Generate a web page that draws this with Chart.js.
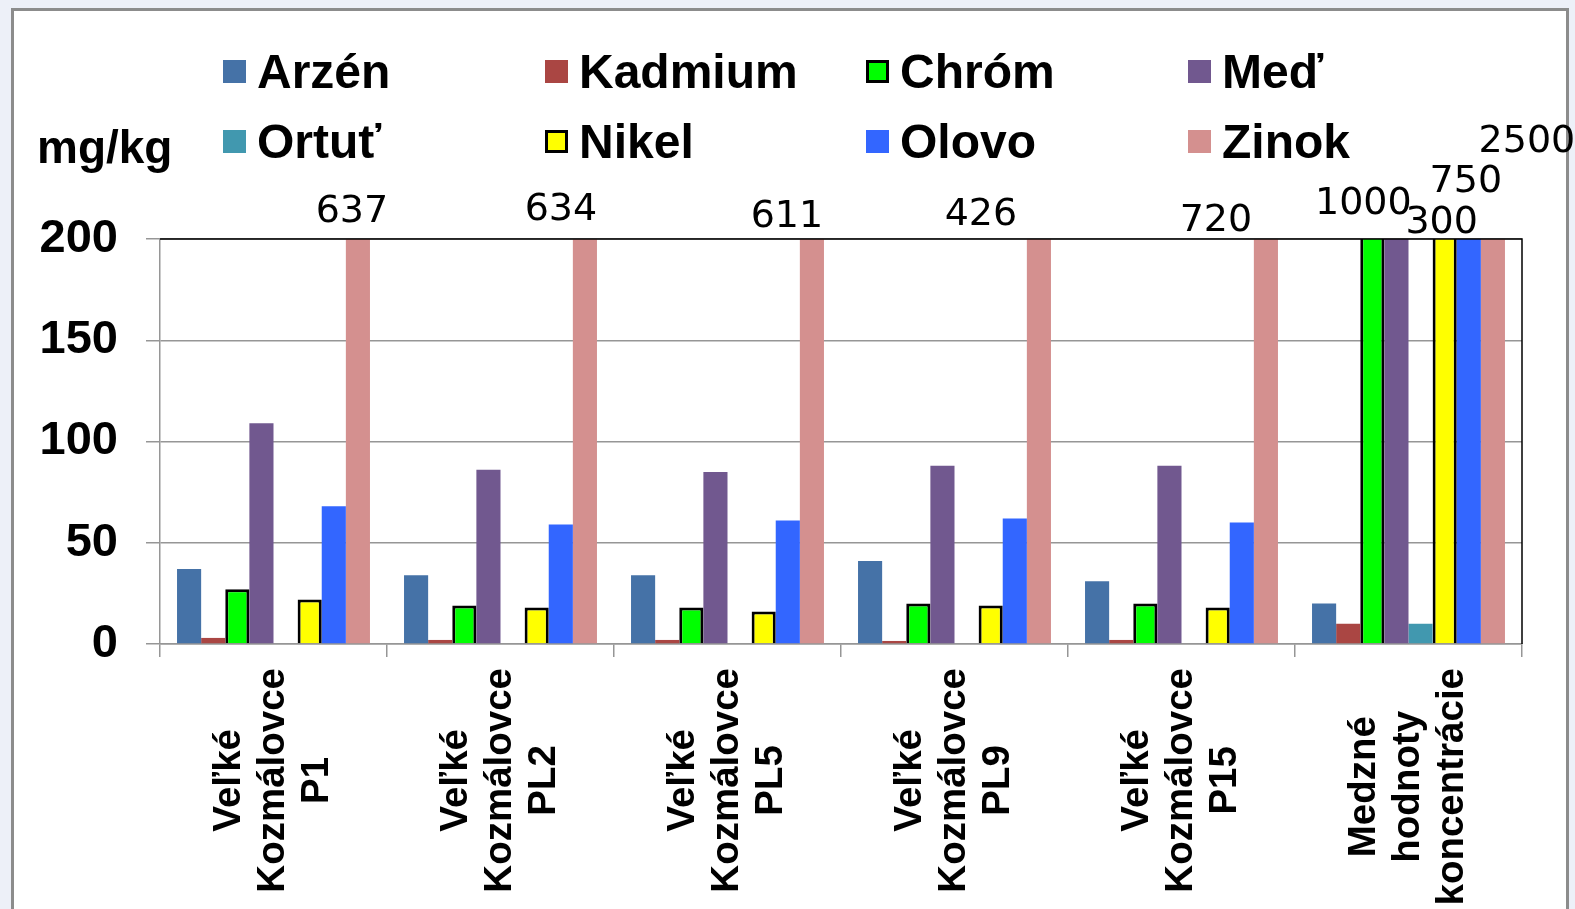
<!DOCTYPE html>
<html lang="sk">
<head>
<meta charset="UTF-8">
<title>Ťažké kovy – Veľké Kozmálovce</title>
<script src="https://cdn.jsdelivr.net/npm/chart.js@4.4.1/dist/chart.umd.min.js"></script>
<style>
    html, body { margin: 0; padding: 0; width: 1575px; height: 909px; overflow: hidden; background: #edf0f8; }
    .panel { position: absolute; left: 11px; top: 8px; width: 1552px; height: 920px; background: #fff;
             border: 3px solid #8c8c8c; border-bottom: none; }
    #wrap { position: absolute; left: 0; top: 0; width: 1575px; height: 909px; }
</style>
</head>
<body>
<div class="panel"></div>
<div id="wrap"><canvas id="kovy"></canvas></div>

<script>
    // --- údaje (mg/kg) ---
    const categories = [
        ['Veľké', 'Kozmálovce', 'P1'],
        ['Veľké', 'Kozmálovce', 'PL2'],
        ['Veľké', 'Kozmálovce', 'PL5'],
        ['Veľké', 'Kozmálovce', 'PL9'],
        ['Veľké', 'Kozmálovce', 'P15'],
        ['Medzné', 'hodnoty', 'koncentrácie']
    ];
    const arzen   = [37, 34, 34, 41, 31, 20];
    const kadmium = [3, 2, 2, 1.5, 2, 10];
    const chrom   = [27, 19, 18, 20, 20, 1000];
    const med     = [109, 86, 85, 88, 88, 1000];
    const ortut   = [0, 0, 0, 0, 0, 10];
    const nikel   = [22, 18, 16, 19, 18, 300];
    const olovo   = [68, 59, 61, 62, 60, 750];
    const zinok   = [637, 634, 611, 426, 720, 2500];
    const yTicks  = [0, 50, 100, 150, 200];

    const seriesNames  = ['Arzén', 'Kadmium', 'Chróm', 'Meď', 'Ortuť', 'Nikel', 'Olovo', 'Zinok'];
    const seriesValues = [arzen, kadmium, chrom, med, ortut, nikel, olovo, zinok];
    const seriesColors = ['#4572a7', '#aa4643', '#00ff00', '#71588f', '#4198af', '#ffff00', '#3366ff', '#d4908f'];
    const outlined     = ['Chróm', 'Nikel'];

    // popisky hodnôt nad orezanými stĺpcami: [séria, kategória, posun x, výška nad grafom]
    const labelNudges = [
        [7, 0, -6, 27], [7, 1, -24, 29], [7, 2, -25, 22], [7, 3, -58, 24], [7, 4, -50, 18],
        [2, 5, -9, 35], [5, 5, -3, 16], [6, 5, -3, 57], [7, 5, 34, 97]
    ];

    const FONT = '"Liberation Sans", Arial, sans-serif';

    const overflowLabels = {
        id: 'overflowLabels',
        afterDatasetsDraw(chart) {
            const { ctx, chartArea } = chart;
            ctx.save();
            // rám grafu – horná a pravá čiara
            ctx.strokeStyle = '#000';
            ctx.lineWidth = 1.5;
            ctx.beginPath();
            ctx.moveTo(chartArea.left, chartArea.top);
            ctx.lineTo(chartArea.right, chartArea.top);
            ctx.lineTo(chartArea.right, chartArea.bottom);
            ctx.stroke();

            ctx.font = '38px "DejaVu Sans", sans-serif';
            ctx.fillStyle = '#000';
            ctx.textAlign = 'center';
            ctx.textBaseline = 'middle';
            labelNudges.forEach(([s, c, dx, rise]) => {
                const bar = chart.getDatasetMeta(s).data[c];
                ctx.fillText(String(seriesValues[s][c]), bar.x + dx, chartArea.top - rise);
            });
            ctx.restore();
        }
    };

    const categoryLabels = {
        id: 'categoryLabels',
        afterDraw(chart) {
            const { ctx } = chart;
            const xs = chart.scales.x;
            ctx.save();
            ctx.font = 'bold 38.5px ' + FONT;
            ctx.fillStyle = '#000';
            ctx.textAlign = 'center';
            ctx.textBaseline = 'middle';
            categories.forEach((lines, i) => {
                const x = xs.getPixelForValue(i);
                const maxW = Math.max(...lines.map(l => ctx.measureText(l).width));
                const yc = xs.top + 24 + maxW / 2;
                ctx.save();
                ctx.translate(x, yc);
                ctx.rotate(-Math.PI / 2);
                lines.forEach((l, k) => ctx.fillText(l, 0, (k - (lines.length - 1) / 2) * 44));
                ctx.restore();
            });
            ctx.restore();
        }
    };

    const gridLegend = {
        id: 'gridLegend',
        afterDraw(chart) {
            const { ctx } = chart;
            const cols = [223, 545, 866, 1188];
            const rows = [88, 158];
            ctx.save();
            ctx.font = 'bold 48px ' + FONT;
            ctx.textAlign = 'left';
            ctx.textBaseline = 'alphabetic';
            chart.data.datasets.forEach((ds, i) => {
                const x = cols[i % 4], base = rows[Math.floor(i / 4)];
                ctx.fillStyle = ds.backgroundColor;
                ctx.fillRect(x, base - 28, 23, 23);
                if (ds.borderWidth > 0) {
                    ctx.strokeStyle = '#000';
                    ctx.lineWidth = 3;
                    ctx.strokeRect(x + 1.5, base - 26.5, 20, 20);
                }
                ctx.fillStyle = '#000';
                ctx.fillText(ds.label, x + 34, base);
            });
            // jednotka osi y
            ctx.font = 'bold 46px ' + FONT;
            ctx.fillText('mg/kg', 37, 163);
            ctx.restore();
        }
    };

    const datasets = seriesNames.map((name, i) => ({
        label: name,
        data: seriesValues[i],
        backgroundColor: seriesColors[i],
        borderColor: '#000',
        borderWidth: outlined.includes(name) ? 3 : 0,
        borderSkipped: 'start',
        clip: 0
    }));

    new Chart(document.getElementById('kovy'), {
        type: 'bar',
        data: { labels: categories, datasets },
        plugins: [overflowLabels, categoryLabels, gridLegend],
        options: {
            responsive: true,
            maintainAspectRatio: false,
            animation: false,
            layout: { padding: { left: 0, top: 239, right: 53, bottom: 0 } },
            datasets: { bar: { barPercentage: 1, categoryPercentage: 0.85 } },
            plugins: { legend: { display: false }, tooltip: { enabled: false } },
            scales: {
                x: {
                    grid: { offset: true, drawOnChartArea: false, color: '#969696', lineWidth: 1.5, tickLength: 13 },
                    border: { color: '#969696', width: 1.5 },
                    ticks: { display: false },
                    afterFit: s => { s.height = 909 - 644; }
                },
                y: {
                    min: 0, max: 200,
                    afterBuildTicks: s => { s.ticks = yTicks.map(v => ({ value: v })); },
                    grid: { color: '#969696', lineWidth: 1.5, tickLength: 14 },
                    border: { color: '#969696', width: 1.5 },
                    ticks: { color: '#000', padding: 28, font: { family: FONT, size: 47, weight: 'bold' } },
                    afterFit: s => { s.width = 160; }
                }
            }
        }
    });
</script>
</body>
</html>
